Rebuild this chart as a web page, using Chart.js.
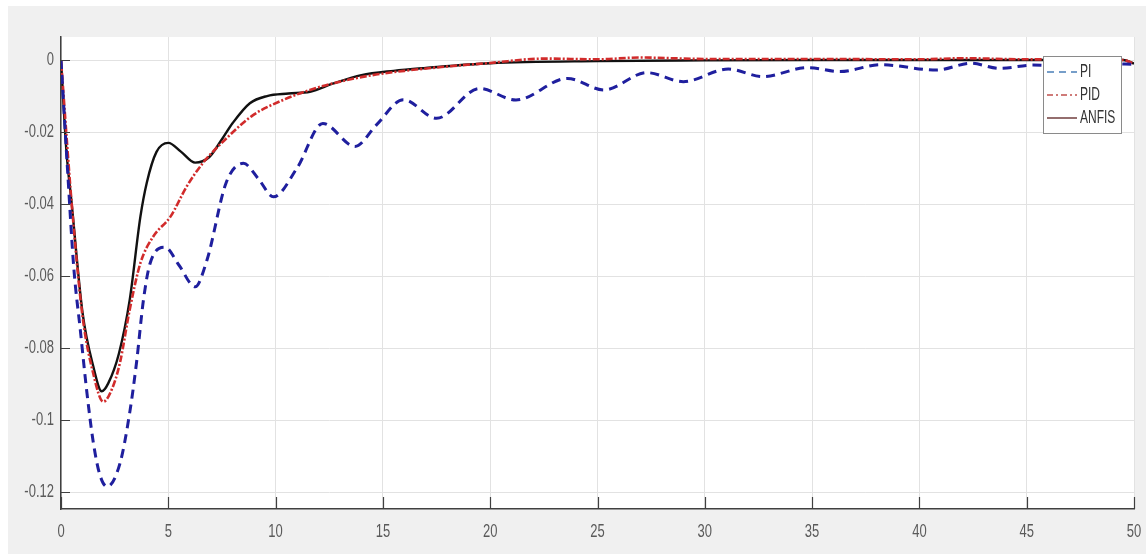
<!DOCTYPE html>
<html>
<head>
<meta charset="utf-8">
<script src="https://cdn.jsdelivr.net/npm/chart.js@4.4.0/dist/chart.umd.min.js"></script>
<style>
  body { margin: 0; background: #fff; }
  #wrap { width: 1146px; height: 554px; }
</style>
</head>
<body>
<div id="wrap"><canvas id="respChart" width="1146" height="554"></canvas></div>
<script>
// data
const xTicks = [0, 5, 10, 15, 20, 25, 30, 35, 40, 45, 50];
const yTicks = [0, -0.02, -0.04, -0.06, -0.08, -0.1, -0.12];
const yTickLabels = ['0', '-0.02', '-0.04', '-0.06', '-0.08', '-0.1', '-0.12'];
const seriesNames = ['PI', 'PID', 'ANFIS'];

const piT = [0, 0.3, 0.6, 0.9, 1.2, 1.5, 1.8, 2.15, 2.75, 3.2, 3.52, 3.84, 4.15, 4.85, 5.5, 6.25, 6.8, 7.7, 8.5, 9.2, 9.9, 11, 12.2, 13.7, 14.7, 15.95, 17.5, 19.5, 21.2, 23.6, 25.3, 27.3, 29.0, 31.1, 32.7, 34.8, 36.3, 38.2, 40.8, 42.4, 43.75, 45.3, 47, 48.5, 50];
const piY = [0, -0.030, -0.058, -0.075, -0.092, -0.106, -0.115, -0.1185, -0.112, -0.098, -0.084, -0.0667, -0.0565, -0.052, -0.057, -0.063, -0.0556, -0.034, -0.0287, -0.033, -0.038, -0.030, -0.0176, -0.024, -0.018, -0.011, -0.0162, -0.0079, -0.0111, -0.0051, -0.0083, -0.0035, -0.006, -0.0025, -0.0046, -0.0021, -0.0032, -0.0013, -0.0028, -0.0009, -0.0023, -0.0014, -0.0018, -0.001, -0.0012];

const pidT = [0, 0.5, 1.0, 1.5, 1.97, 2.4, 2.75, 3.2, 3.7, 4.3, 5.1, 5.85, 6.6, 7.7, 8.95, 10.35, 11.6, 13, 14.5, 16, 18, 20, 22.5, 25, 27, 30, 35, 40, 42, 45, 49.5, 50];
const pidY = [0, -0.040, -0.071, -0.087, -0.0949, -0.091, -0.084, -0.0694, -0.0564, -0.049, -0.0435, -0.0352, -0.0287, -0.0218, -0.0153, -0.0111, -0.0083, -0.006, -0.0042, -0.003, -0.0018, -0.0008, 0.0004, 0.0002, 0.0007, 0.0003, 0.0003, 0.0002, 0.0005, 0.0002, 0, -0.001];

const anfisT = [0, 0.25, 0.5, 1.0, 1.5, 1.9, 2.2, 2.7, 3.2, 3.7, 4.0, 4.45, 5.0, 5.6, 6.25, 6.9, 7.5, 8.0, 8.8, 9.6, 10.6, 11.6, 12.7, 14.0, 15.5, 17, 20, 25, 30, 35, 40, 45, 49.5, 50];
const anfisY = [0, -0.025, -0.040, -0.070, -0.085, -0.092, -0.0898, -0.0815, -0.0667, -0.0435, -0.034, -0.0255, -0.023, -0.0255, -0.0285, -0.027, -0.022, -0.0175, -0.012, -0.010, -0.0093, -0.0088, -0.0065, -0.0042, -0.003, -0.0022, -0.0009, -0.0003, -0.0001, 0, 0, 0, 0, -0.001];

function pts(t, y) {
    return t.map((v, i) => ({ x: v, y: y[i] }));
}

const axisColor = '#404040';
const fontFamily = '"Liberation Sans", Arial, sans-serif';

// text in the picture is tall and narrow, so stretch it vertically
function tallText(ctx, text, x, y, align, size, stretch, color) {
    ctx.save();
    ctx.font = size + 'px ' + fontFamily;
    ctx.fillStyle = color;
    ctx.textAlign = align;
    ctx.textBaseline = 'middle';
    ctx.translate(x, y);
    ctx.scale(1, stretch);
    ctx.fillText(text, 0, 0);
    ctx.restore();
}

// gray figure background + white axes box
const backdrop = {
    id: 'backdrop',
    beforeDraw(chart) {
        const { ctx, chartArea: a } = chart;
        ctx.save();
        ctx.fillStyle = '#ffffff';
        ctx.fillRect(0, 0, chart.width, chart.height);
        ctx.fillStyle = '#f0f0f0';
        ctx.fillRect(8, 6, chart.width - 8, chart.height - 6);
        ctx.fillStyle = '#ffffff';
        ctx.fillRect(a.left, a.top, a.right - a.left, a.bottom - a.top);
        ctx.restore();
    }
};

// matlab style ticks pointing into the axes, tick labels, legend box
const axesDecor = {
    id: 'axesDecor',
    afterDraw(chart) {
        const { ctx, chartArea: a, scales } = chart;
        ctx.save();
        ctx.strokeStyle = axisColor;
        ctx.lineWidth = 1.2;
        ctx.beginPath();
        yTicks.forEach(v => {
            const py = Math.round(scales.y.getPixelForValue(v)) + 0.5;
            ctx.moveTo(a.left, py);
            ctx.lineTo(a.left + 9, py);
        });
        xTicks.forEach(v => {
            const px = Math.round(scales.x.getPixelForValue(v)) + 0.5;
            ctx.moveTo(px, a.bottom);
            ctx.lineTo(px, a.bottom - 12);
        });
        ctx.stroke();
        ctx.restore();

        yTicks.forEach((v, i) => {
            tallText(ctx, yTickLabels[i], a.left - 7, scales.y.getPixelForValue(v), 'right', 13, 1.4, '#5a5a5a');
        });
        xTicks.forEach(v => {
            tallText(ctx, String(v), scales.x.getPixelForValue(v), a.bottom + 23, 'center', 13, 1.4, '#5a5a5a');
        });

        // legend
        ctx.save();
        const lx = 1043, ly = 56, lw = 78, lh = 77;
        ctx.fillStyle = '#ffffff';
        ctx.fillRect(lx, ly, lw, lh);
        ctx.strokeStyle = '#8a8a8a';
        ctx.lineWidth = 1;
        ctx.strokeRect(lx + 0.5, ly + 0.5, lw, lh);
        const sample = [
            { color: '#4a7fb8', dash: [7, 5] },
            { color: '#c0504d', dash: [6, 3, 2, 3] },
            { color: '#5a1f1f', dash: [] }
        ];
        seriesNames.forEach((name, i) => {
            const y = ly + 16 + i * 23;
            ctx.strokeStyle = sample[i].color;
            ctx.lineWidth = 1.3;
            ctx.setLineDash(sample[i].dash);
            ctx.beginPath();
            ctx.moveTo(lx + 4, y);
            ctx.lineTo(lx + 34, y);
            ctx.stroke();
            ctx.setLineDash([]);
            tallText(ctx, name, lx + 37, y, 'left', 12, 1.5, '#333333');
        });
        ctx.restore();
    }
};

new Chart(document.getElementById('respChart').getContext('2d'), {
    type: 'line',
    data: {
        datasets: [{
            label: seriesNames[0],
            data: pts(piT, piY),
            borderColor: '#1f1f9e',
            borderWidth: 3,
            borderDash: [9, 6],
            pointRadius: 0,
            cubicInterpolationMode: 'monotone'
        }, {
            label: seriesNames[1],
            data: pts(pidT, pidY),
            borderColor: '#d12b2b',
            borderWidth: 2.6,
            borderDash: [7, 2, 2, 2],
            pointRadius: 0,
            cubicInterpolationMode: 'monotone'
        }, {
            label: seriesNames[2],
            data: pts(anfisT, anfisY),
            borderColor: '#111111',
            borderWidth: 2.4,
            pointRadius: 0,
            cubicInterpolationMode: 'monotone'
        }]
    },
    options: {
        responsive: false,
        animation: false,
        layout: { padding: { top: 37, right: 12, left: 0, bottom: 0 } },
        plugins: {
            legend: { display: false },
            tooltip: { enabled: false }
        },
        scales: {
            x: {
                type: 'linear',
                min: 0,
                max: 50,
                afterBuildTicks: scale => { scale.ticks = xTicks.map(v => ({ value: v })); },
                afterFit: scale => { scale.height = 45; },
                grid: { color: '#e2e2e2', drawTicks: false },
                border: { color: axisColor, width: 1.5 },
                ticks: { display: false }
            },
            y: {
                type: 'linear',
                min: -0.1247,
                max: 0.0064,
                afterBuildTicks: scale => { scale.ticks = yTicks.map(v => ({ value: v })); },
                afterFit: scale => { scale.width = 61; },
                grid: { color: '#e2e2e2', drawTicks: false },
                border: { color: axisColor, width: 1.5 },
                ticks: { display: false }
            }
        }
    },
    plugins: [backdrop, axesDecor]
});
</script>
</body>
</html>
